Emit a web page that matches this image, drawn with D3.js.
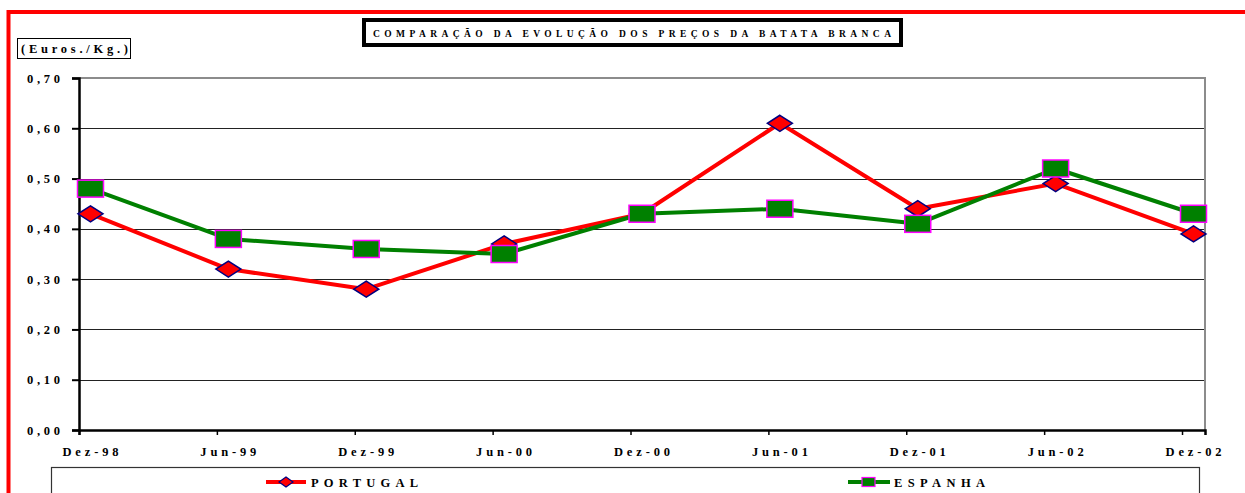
<!DOCTYPE html>
<html>
<head>
<meta charset="utf-8">
<script src="https://cdn.jsdelivr.net/npm/d3@7"></script>
<style>
  body { margin: 0; background: #fff; overflow: hidden; }
  text { font-family: "Liberation Serif", "Times New Roman", serif; font-weight: bold; fill: #000; }
</style>
</head>
<body>
<div id="chart"></div>
<script>
// --------------------------------------
//  Data
// --------------------------------------

const periods = ["Dez-98", "Jun-99", "Dez-99", "Jun-00", "Dez-00", "Jun-01", "Dez-01", "Jun-02", "Dez-02"];
const portugal = [0.43, 0.32, 0.28, 0.37, 0.43, 0.61, 0.44, 0.49, 0.39];
const espanha = [0.48, 0.38, 0.36, 0.35, 0.43, 0.44, 0.41, 0.52, 0.43];
const yTicks = [0, 0.1, 0.2, 0.3, 0.4, 0.5, 0.6, 0.7];
const seriesNames = ["PORTUGAL", "ESPANHA"];

// --------------------------------------
//  Canvas
// --------------------------------------

const width = 1245;
const height = 493;
const plot = { left: 79, right: 1205, top: 78, bottom: 430 };

const svg = d3
  .select("#chart")
  .append("svg")
  .attr("width", width)
  .attr("height", height);

// outer red frame (runs off the page right and bottom)
svg.append("rect")
  .attr("x", 8.5).attr("y", 12)
  .attr("width", 1400).attr("height", 700)
  .attr("fill", "none")
  .attr("stroke", "#ff0000")
  .attr("stroke-width", 4);

// --------------------------------------
//  Scales (months axis, points centred in their month)
// --------------------------------------

const months = (periods.length - 1) * 6 + 1;
const x = d3.scaleLinear([0, months], [plot.left, plot.right]);
const px = (i) => x(i * 6 + 0.5);
const y = d3.scaleLinear([0, 0.7], [plot.bottom, plot.top]);

// --------------------------------------
//  Grid + frame
// --------------------------------------

svg.append("g")
  .selectAll("line")
  .data(yTicks.filter(d => d > 0 && d < 0.7))
  .join("line")
  .attr("x1", plot.left).attr("x2", plot.right)
  .attr("y1", d => Math.round(y(d)) + 0.5)
  .attr("y2", d => Math.round(y(d)) + 0.5)
  .attr("stroke", "#222")
  .attr("stroke-width", 1);

svg.append("path")
  .attr("d", `M${plot.left},${plot.top} H${plot.right} V${plot.bottom}`)
  .attr("fill", "none")
  .attr("stroke", "#8c8c8c")
  .attr("stroke-width", 2);

// --------------------------------------
//  Axes
// --------------------------------------

const yAxis = svg.append("g")
  .attr("transform", `translate(${plot.left},0)`)
  .call(d3.axisLeft(y).tickValues(yTicks).tickSize(7).tickPadding(12)
    .tickFormat(d => d.toFixed(2).replace(".", ",")));
yAxis.select(".domain").attr("stroke", "#000").attr("stroke-width", 2.5);
yAxis.selectAll(".tick line").attr("stroke", "#000").attr("stroke-width", 2);
yAxis.selectAll(".tick text")
  .attr("font-size", 12.5)
  .attr("font-family", null)
  .attr("textLength", 33)
  .attr("lengthAdjust", "spacing");

const xAxis = svg.append("g")
  .attr("transform", `translate(0,${plot.bottom})`)
  .call(d3.axisBottom(x).tickValues(d3.range(0, months, 6)).tickSize(5).tickFormat(""));
xAxis.select(".domain").attr("stroke", "#000").attr("stroke-width", 2.5);
xAxis.selectAll(".tick line").attr("stroke", "#000").attr("stroke-width", 1.5);

svg.append("g")
  .selectAll("text")
  .data(periods)
  .join("text")
  .attr("x", (d, i) => px(i))
  .attr("y", 456)
  .attr("text-anchor", "middle")
  .attr("font-size", 12.5)
  .attr("textLength", 56)
  .attr("lengthAdjust", "spacing")
  .text(d => d);

// --------------------------------------
//  Titles
// --------------------------------------

svg.append("rect")
  .attr("x", 364).attr("y", 20).attr("width", 537).attr("height", 25)
  .attr("fill", "#fff").attr("stroke", "#000").attr("stroke-width", 4);
svg.append("text")
  .attr("x", 632).attr("y", 36.5)
  .attr("text-anchor", "middle")
  .attr("font-size", 9.5)
  .attr("textLength", 518)
  .attr("lengthAdjust", "spacing")
  .text("COMPARAÇÃO DA EVOLUÇÃO DOS PREÇOS DA BATATA BRANCA");

svg.append("rect")
  .attr("x", 17.5).attr("y", 38.5).attr("width", 113).attr("height", 20)
  .attr("fill", "#fff").attr("stroke", "#000").attr("stroke-width", 1);
svg.append("text")
  .attr("x", 21).attr("y", 52.5)
  .attr("font-size", 12.5)
  .attr("textLength", 107)
  .attr("lengthAdjust", "spacing")
  .text("(Euros./Kg.)");

// --------------------------------------
//  Series
// --------------------------------------

const line = d3.line().x((d, i) => px(i)).y(d => y(d));
const diamond = (w, h) => `M0,${-h} L${w},0 L0,${h} L${-w},0 Z`;

function drawSeries(values, color, kind) {
  svg.append("path")
    .datum(values)
    .attr("d", line)
    .attr("fill", "none")
    .attr("stroke", color)
    .attr("stroke-width", 4)
    .attr("stroke-linejoin", "round");

  const g = svg.append("g");
  if (kind === "diamond") {
    g.selectAll("path")
      .data(values)
      .join("path")
      .attr("transform", (d, i) => `translate(${px(i)},${y(d)})`)
      .attr("d", diamond(12.5, 8))
      .attr("fill", "#ff0000")
      .attr("stroke", "#000080")
      .attr("stroke-width", 1.5);
  } else {
    g.selectAll("rect")
      .data(values)
      .join("rect")
      .attr("x", (d, i) => px(i) - 13)
      .attr("y", d => y(d) - 8.5)
      .attr("width", 26)
      .attr("height", 17)
      .attr("fill", "#008000")
      .attr("stroke", "#ff00ff")
      .attr("stroke-width", 1.5);
  }
}

drawSeries(portugal, "#ff0000", "diamond");
drawSeries(espanha, "#008000", "square");

// --------------------------------------
//  Legend
// --------------------------------------

svg.append("rect")
  .attr("x", 51.5).attr("y", 467.5).attr("width", 1148).attr("height", 60)
  .attr("fill", "#fff").attr("stroke", "#333").attr("stroke-width", 1.2);

const lg = svg.append("g");
lg.append("line").attr("x1", 266).attr("x2", 306).attr("y1", 482).attr("y2", 482)
  .attr("stroke", "#ff0000").attr("stroke-width", 4);
lg.append("path").attr("transform", "translate(286,482)").attr("d", diamond(7, 5))
  .attr("fill", "#ff0000").attr("stroke", "#000080").attr("stroke-width", 1.2);
lg.append("text").attr("x", 311).attr("y", 486.5).attr("font-size", 12.5)
  .attr("textLength", 107).attr("lengthAdjust", "spacing").text(seriesNames[0]);

lg.append("line").attr("x1", 848).attr("x2", 890).attr("y1", 482).attr("y2", 482)
  .attr("stroke", "#008000").attr("stroke-width", 4);
lg.append("rect").attr("x", 862).attr("y", 477.5).attr("width", 13).attr("height", 9)
  .attr("fill", "#008000").attr("stroke", "#ff00ff").attr("stroke-width", 1.2);
lg.append("text").attr("x", 894).attr("y", 486.5).attr("font-size", 12.5)
  .attr("textLength", 91).attr("lengthAdjust", "spacing").text(seriesNames[1]);
</script>
</body>
</html>
